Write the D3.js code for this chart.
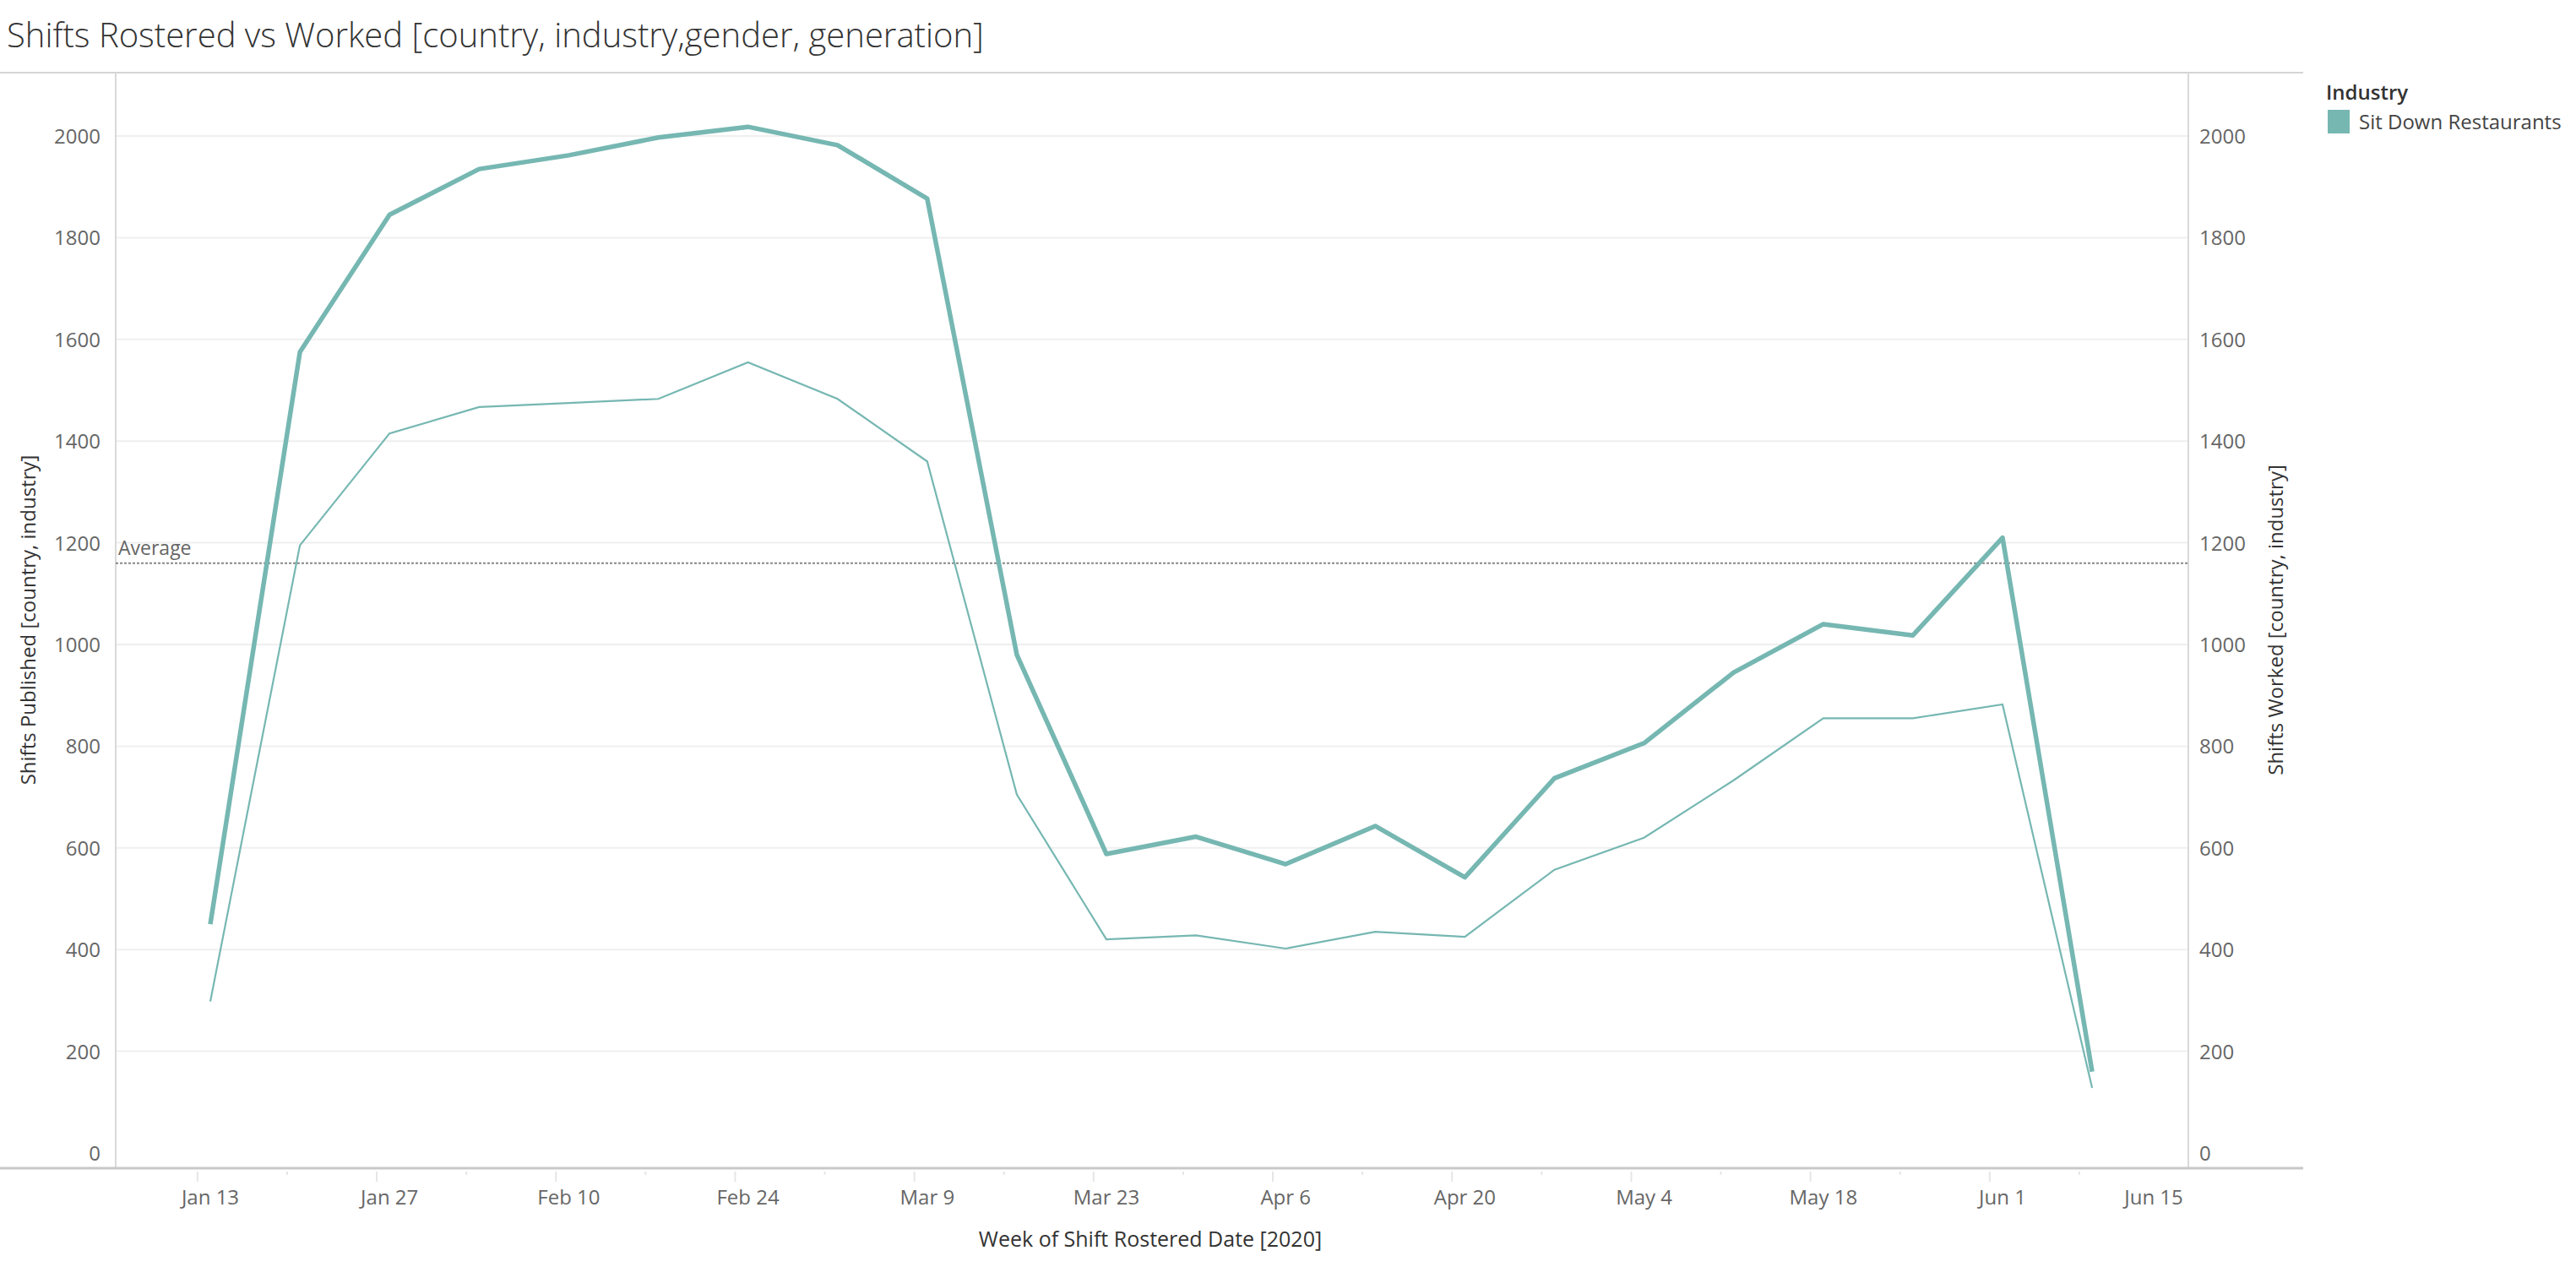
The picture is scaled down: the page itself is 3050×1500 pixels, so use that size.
<!DOCTYPE html>
<html><head><meta charset="utf-8">
<script src="https://cdn.jsdelivr.net/npm/d3@7"></script>
<style>body{margin:0;background:#fff}text{font-family:"Open Sans",Lato,sans-serif}</style>
</head><body><svg id="c" width="3050" height="1500"></svg>
<script>
const weeks=["2020-01-13","2020-01-20","2020-01-27","2020-02-03","2020-02-10","2020-02-17","2020-02-24","2020-03-02","2020-03-09","2020-03-16","2020-03-23","2020-03-30","2020-04-06","2020-04-13","2020-04-20","2020-04-27","2020-05-04","2020-05-11","2020-05-18","2020-05-25","2020-06-01","2020-06-08"];
const published=[450,1575,1845,1935,1962,1997,2018,1982,1877,980,588,622,568,643,542,737,806,945,1040,1018,1210,160];
const worked=[298,1195,1415,1467,1475,1483,1555,1483,1360,705,420,428,402,435,425,557,620,733,855,855,882,128];
const avgValue=1160;
const yTicks=[0,200,400,600,800,1000,1200,1400,1600,1800,2000];
const xLabelDates=["2020-01-13","2020-01-27","2020-02-10","2020-02-24","2020-03-09","2020-03-23","2020-04-06","2020-04-20","2020-05-04","2020-05-18","2020-06-01","2020-06-15"];
const xLabels=["Jan 13","Jan 27","Feb 10","Feb 24","Mar 9","Mar 23","Apr 6","Apr 20","May 4","May 18","Jun 1","Jun 15"];
const color="#76b7b2";
const p=d3.timeParse("%Y-%m-%d");
const svg=d3.select("#c");
const L=137,R=2591,T=86,B=1383;
const x=d3.scaleTime().domain([p("2020-01-13"),p("2020-06-01")]).range([249,2371]);
const y=d3.scaleLinear().domain([0,2000]).range([1365,161]);
svg.append("text").attr("x",8).attr("y",56).attr("font-size",40).attr("font-weight",300).attr("fill","#333").text("Shifts Rostered vs Worked [country, industry,gender, generation]");
svg.append("line").attr("x1",0).attr("x2",2727).attr("y1",T).attr("y2",T).attr("stroke","#d4d4d4").attr("stroke-width",2);
svg.append("g").selectAll("line").data(yTicks.slice(1)).join("line").attr("x1",L).attr("x2",R).attr("y1",d=>y(d)).attr("y2",d=>y(d)).attr("stroke","#efefef").attr("stroke-width",2);
svg.append("line").attr("x1",L).attr("x2",L).attr("y1",T).attr("y2",B).attr("stroke","#d9d9d9").attr("stroke-width",2);
svg.append("line").attr("x1",R).attr("x2",R).attr("y1",T).attr("y2",B).attr("stroke","#d9d9d9").attr("stroke-width",2);
svg.append("line").attr("x1",0).attr("x2",2727).attr("y1",B).attr("y2",B).attr("stroke","#c8c8c8").attr("stroke-width",3);
svg.append("g").selectAll("text").data(yTicks).join("text").attr("x",119).attr("y",d=>y(d)+9).attr("text-anchor","end").attr("font-size",24).attr("fill","#666").text(d=>d);
svg.append("g").selectAll("text").data(yTicks).join("text").attr("x",2604).attr("y",d=>y(d)+9).attr("font-size",24).attr("fill","#666").text(d=>d);
const tickDates=d3.timeWeek.every(1).range(p("2020-01-06"),p("2020-06-09"));
svg.append("g").selectAll("line").data(tickDates).join("line").attr("x1",d=>x(d)).attr("x2",d=>x(d)).attr("y1",B+4).attr("y2",(d,i)=>B+(i%2==0?16:8)).attr("stroke","#e6e6e6").attr("stroke-width",2);
svg.append("g").selectAll("text").data(xLabelDates).join("text").attr("x",d=>Math.min(x(p(d)),R-41)).attr("y",1426).attr("text-anchor","middle").attr("font-size",24).attr("fill","#666").text((d,i)=>xLabels[i]);
svg.append("text").attr("x",1362).attr("y",1476).attr("text-anchor","middle").attr("font-size",25).attr("fill","#333").text("Week of Shift Rostered Date [2020]");
svg.append("text").attr("transform","translate(42,734) rotate(-90)").attr("text-anchor","middle").attr("font-size",24).attr("fill","#333").text("Shifts Published [country, industry]");
svg.append("text").attr("transform","translate(2703,734) rotate(-90)").attr("text-anchor","middle").attr("font-size",24).attr("fill","#333").text("Shifts Worked [country, industry]");
svg.append("line").attr("x1",L).attr("x2",R).attr("y1",y(avgValue)).attr("y2",y(avgValue)).attr("stroke","#888").attr("stroke-width",2).attr("stroke-dasharray","3,2");
svg.append("text").attr("x",140).attr("y",y(avgValue)-10).attr("font-size",23).attr("fill","#666").text("Average");
const ln=d3.line().x((d,i)=>x(p(weeks[i]))).y(d=>y(d));
svg.append("path").attr("d",ln(worked)).attr("fill","none").attr("stroke",color).attr("stroke-width",2.2);
svg.append("path").attr("d",ln(published)).attr("fill","none").attr("stroke",color).attr("stroke-width",5.5).attr("stroke-linejoin","round");
svg.append("text").attr("x",2754).attr("y",118).attr("font-size",24).attr("font-weight",600).attr("fill","#333").text("Industry");
svg.append("rect").attr("x",2756).attr("y",130).attr("width",26).attr("height",28).attr("fill",color);
svg.append("text").attr("x",2793).attr("y",153).attr("font-size",24).attr("fill","#444").text("Sit Down Restaurants");
</script></body></html>
